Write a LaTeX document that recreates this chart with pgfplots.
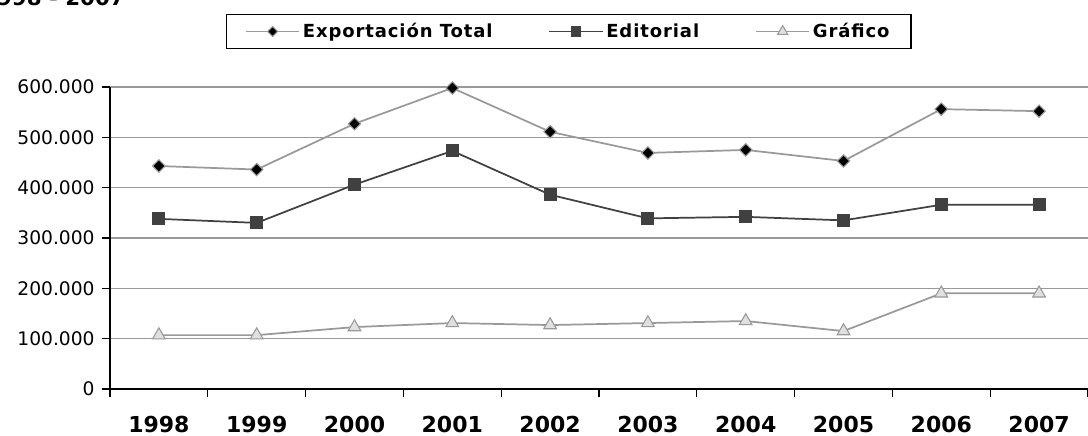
\documentclass[border=0pt]{standalone}
\usepackage{fontspec}
\setmainfont{DejaVu Sans}
\usepackage{pgfplots}
\pgfplotsset{compat=1.18}

\definecolor{lgray}{HTML}{999999}
\definecolor{dgray}{HTML}{404040}
\definecolor{tfill}{HTML}{E0E0E0}

\begin{document}
\begin{tikzpicture}
  \begin{axis}[
    scale only axis,
    width=733.5pt, height=226.5pt,
    xmin=-0.5, xmax=9.5,
    ymin=0, ymax=600000,
    axis x line*=bottom, axis y line*=left,
    axis line style={black, line width=1.2pt, -},
    xtick={0,...,9},
    xticklabels={1998,1999,2000,2001,2002,2003,2004,2005,2006,2007},
    minor xtick={-0.5,0.5,...,9.5},
    major x tick style={draw=none},
    minor tick length=6pt,
    tick align=outside,
    ytick={0,100000,...,600000},
    major tick length=6pt,
    tick style={black, line width=1pt},
    scaled y ticks=false,
    /pgf/number format/.cd, fixed, 1000 sep={.}, assume math mode=true, /pgfplots/.cd,
    ymajorgrids,
    grid style={lgray, line width=1.1pt},
    xticklabel style={font=\fontsize{16.5}{18}\selectfont\bfseries, yshift=-10.5pt},
    yticklabel style={font=\fontsize{14}{16}\selectfont, xshift=-2pt},
    legend columns=3,
    legend style={at={(0.469,1)}, anchor=south, yshift=28.5pt,
      draw=black, line width=1pt, inner xsep=14pt, inner ysep=4.5pt,
      font=\fontsize{13.5}{15}\selectfont\bfseries\addfontfeatures{LetterSpace=5},
      /tikz/every even column/.append style={column sep=40pt}},
    legend image code/.code={\draw[mark repeat=2,mark phase=2,
      every mark/.append style={scale=0.8}]
      plot coordinates {(0pt,0pt) (20pt,0pt) (40pt,0pt)};},
    clip=false,
  ]
    \addplot[lgray, line width=1.3pt, mark=square*, mark size=3.3pt,
      mark options={rotate=45, fill=black, draw=lgray, line width=0.8pt}] coordinates {
      (0,443000) (1,436000) (2,527000) (3,598000) (4,511000)
      (5,469000) (6,475000) (7,453000) (8,556000) (9,552000)};
    \addlegendentry{Exportación Total}
    \addplot[dgray, line width=1.3pt, mark=square*, mark size=4.2pt,
      mark options={fill=dgray, draw=dgray}] coordinates {
      (0,338000) (1,330000) (2,406000) (3,473000) (4,386000)
      (5,339000) (6,342000) (7,335000) (8,366000) (9,366000)};
    \addlegendentry{Editorial}
    \addplot[lgray, line width=1.3pt, mark=triangle*, mark size=5.5pt,
      mark options={fill=tfill, draw=lgray, line width=0.8pt}] coordinates {
      (0,107000) (1,107000) (2,123000) (3,131000) (4,127000)
      (5,131000) (6,135000) (7,115000) (8,190000) (9,190000)};
    \addlegendentry{Gráfico}
    \coordinate (sw) at (rel axis cs:0,0);
    \coordinate (ne) at (rel axis cs:1,1);
  \end{axis}
  \pgfresetboundingbox
  \path[use as bounding box] ([xshift=-82.5pt,yshift=-35.25pt]sw) rectangle ([yshift=65.25pt]ne);
  \node[anchor=base east, inner sep=0pt, font=\fontsize{16}{18}\selectfont\bfseries]
    at ([xshift=11.25pt,yshift=61pt]sw|-ne) {1998 - 2007};
\end{tikzpicture}
\end{document}
